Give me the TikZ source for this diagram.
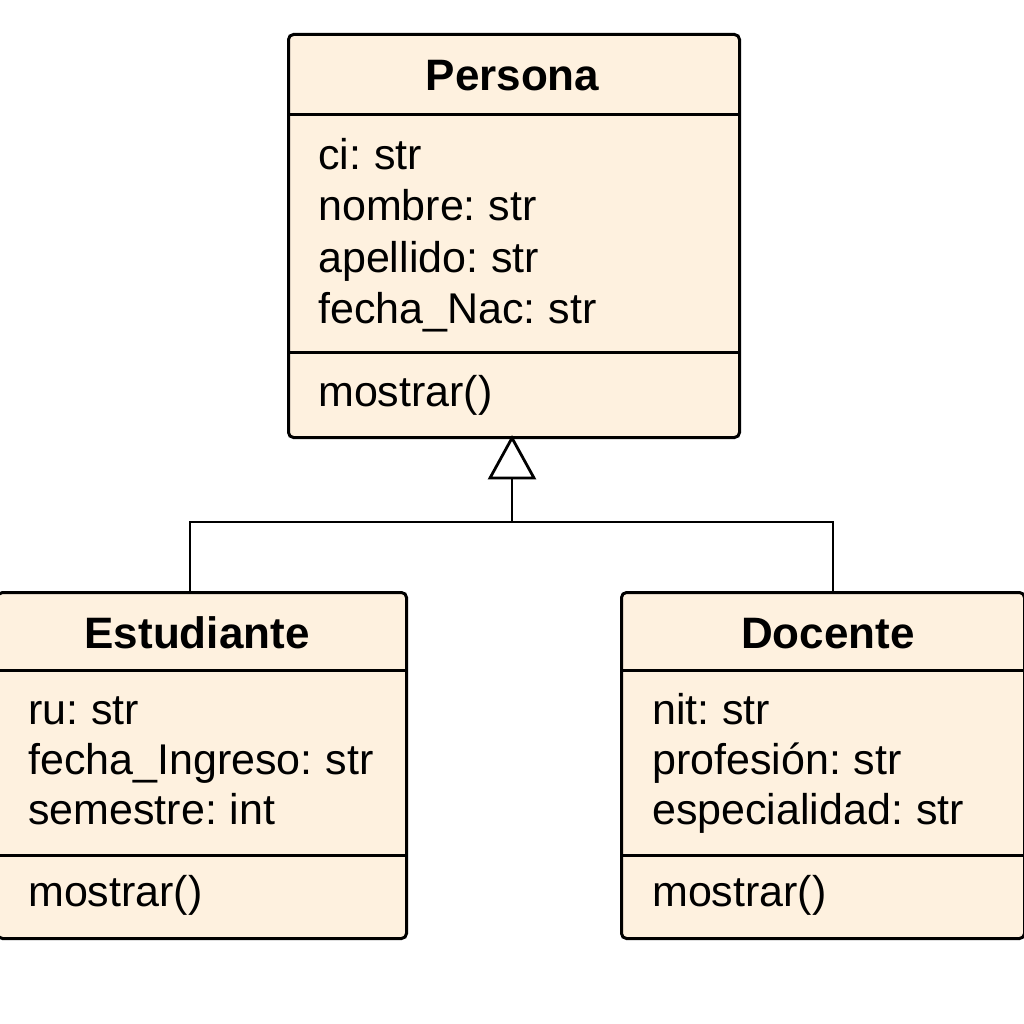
\documentclass[tikz,border=0pt]{standalone}
\usepackage{fontspec}
\setmainfont{Liberation Sans}
\definecolor{boxfill}{RGB}{254,241,223}
\newcommand\tightspace{\spaceskip=0.75\fontdimen2\font\relax}
\begin{document}
\begin{tikzpicture}[x=1pt,y=-1pt,
  umlbox/.style={draw=black, line width=3pt, fill=boxfill, rounded corners=5pt, inner sep=0pt, anchor=north west},
  divider/.style={line width=3pt},
  conn/.style={line width=2.8pt},
  title/.style={font=\fontsize{44}{50}\selectfont\bfseries, anchor=base, inner sep=0pt},
  attr/.style={font=\fontsize{43}{50}\selectfont, execute at begin node=\tightspace, anchor=base west, inner sep=0pt}]
\useasboundingbox (0,0) rectangle (1024,1024);
% Persona
\node[umlbox, minimum width=451pt, minimum height=403pt] (persona) at (287,33) {};
\draw[divider] (287,115) -- (738,115);
\draw[divider] (287,352) -- (738,352);
\node[title] (pt) at (512.5,91) {Persona};
\node[attr] (pa1) at (318,170) {ci: str};
\node[attr] (pa2) at (318,221) {nombre: str};
\node[attr] (pa3) at (318,272) {apellido: str};
\node[attr] (pa4) at (318,323) {fecha\_Nac: str};
\node[attr] (pm) at (318,406) {mostrar()};
% Estudiante
\node[umlbox, minimum width=409pt, minimum height=346pt] (est) at (-4,591) {};
\draw[divider] (-4,670) -- (405,670);
\draw[divider] (-4,855) -- (405,855);
\node[title] (et) at (197,648) {Estudiante};
\node[attr] (ea1) at (28,724) {ru: str};
\node[attr] (ea2) at (28,774) {fecha\_Ingreso: str};
\node[attr] (ea3) at (28,824) {semestre: int};
\node[attr] (em) at (28,906) {mostrar()};
% Docente
\node[umlbox, minimum width=403pt, minimum height=346pt] (doc) at (620,591) {};
\draw[divider] (620,670) -- (1023,670);
\draw[divider] (620,855) -- (1023,855);
\node[title] (dt) at (828,648) {Docente};
\node[attr] (da1) at (652,724) {nit: str};
\node[attr] (da2) at (652,774) {profesión: str};
\node[attr] (da3) at (652,824) {especialidad: str};
\node[attr] (dm) at (652,906) {mostrar()};
% Generalization
\coordinate (tip) at (512,438);
\coordinate (base) at (512,478);
\coordinate (join) at (512,522);
\draw[conn, line join=miter, fill=white] (tip) -- (534,478) -- (490,478) -- cycle;
\draw[conn] (base) -- (join);
\draw[conn] (est.north -| 190,0) |- (join) -| (doc.north -| 833,0);
\end{tikzpicture}
\end{document}
